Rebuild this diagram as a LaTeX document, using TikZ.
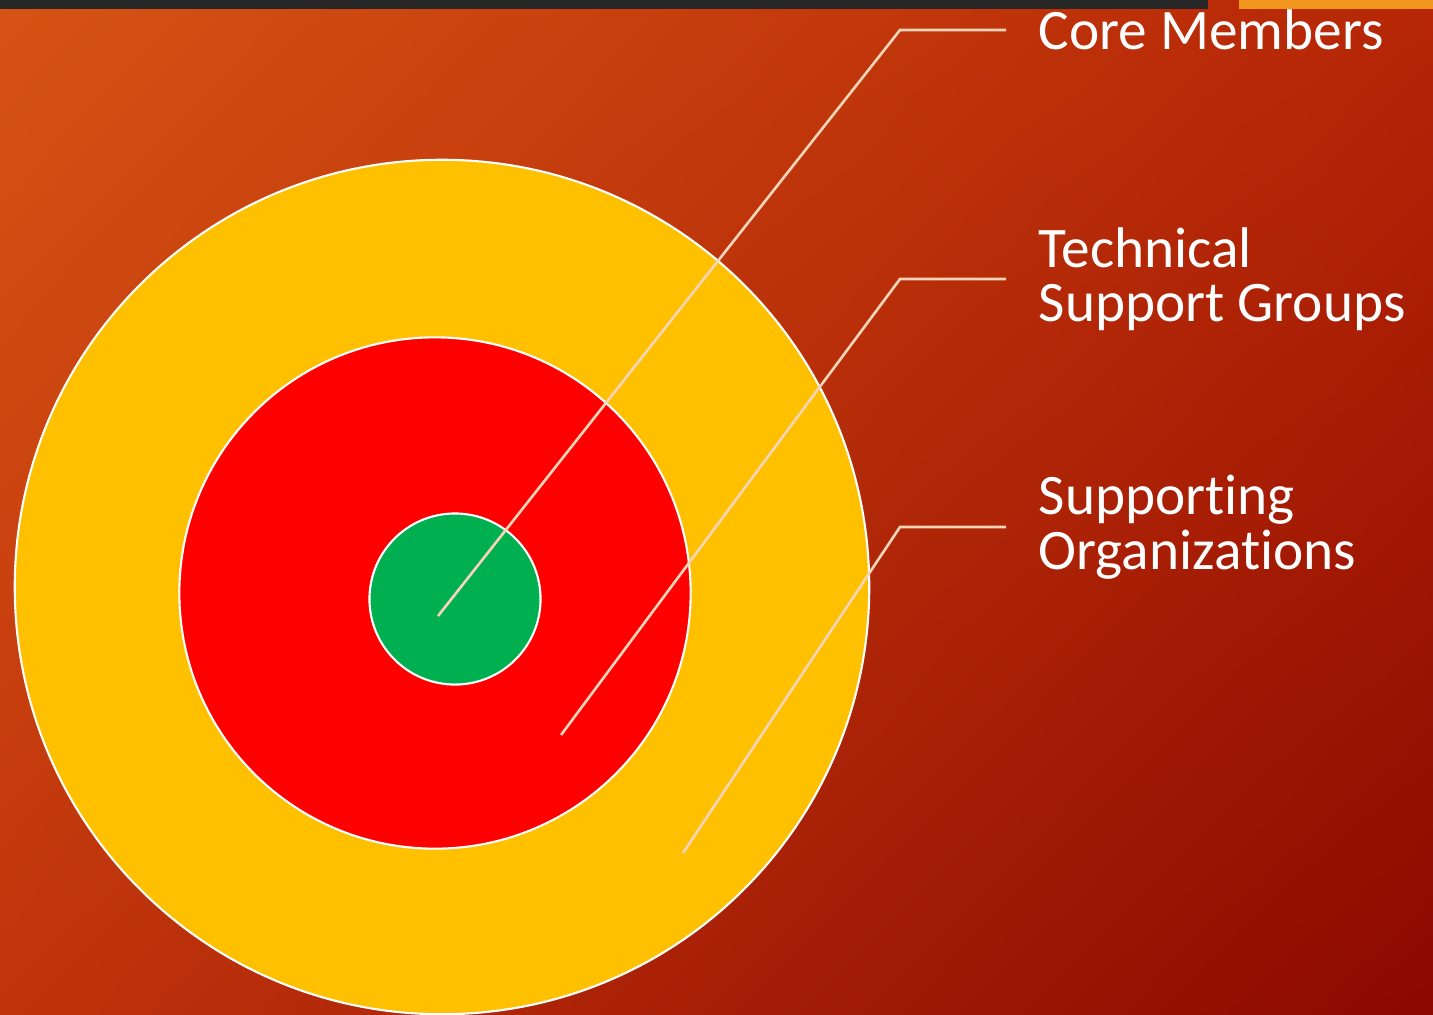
\documentclass[tikz,border=0pt]{standalone}
\usepackage{fontspec}
\setmainfont{Carlito}[Ligatures={NoCommon}]
\usetikzlibrary{positioning, shadings}

\definecolor{bgtl}{RGB}{214,84,20}
\definecolor{bgtr}{RGB}{182,38,6}
\definecolor{bgbl}{RGB}{192,52,12}
\definecolor{bgbr}{RGB}{140,8,0}
\definecolor{bardark}{RGB}{38,38,38}
\definecolor{barorange}{RGB}{240,150,28}
\definecolor{ringyellow}{RGB}{255,192,0}
\definecolor{ringred}{RGB}{255,0,0}
\definecolor{ringgreen}{RGB}{0,176,80}
\definecolor{leadcol}{RGB}{246,212,184}

\begin{document}
\begin{tikzpicture}[
  x=0.01cm, y=-0.01cm,
  ring/.style={circle, draw=white, line width=0.6pt, inner sep=0pt},
  lbl/.style={anchor=west, align=left, text=white, inner xsep=0.32cm, inner ysep=0pt,
    font=\fontsize{16.3}{15.5}\selectfont},
  leader/.style={draw=leadcol, line width=0.75pt}
]
\useasboundingbox (0,0) rectangle (1433,1014);
\clip (0,0) rectangle (1433,1014);

% background and top bars
\shade[upper left=bgtl, upper right=bgtr, lower left=bgbl, lower right=bgbr]
  (0,0) rectangle (1433,1014);
\fill[bardark] (0,0) rectangle (1208,9);
\fill[barorange] (1239,0) rectangle (1433,9);

% rings
\node[ring, fill=ringyellow, minimum size=8.54cm] (outer) at (442,587) {};
\node[ring, fill=ringred, minimum size=5.11cm] (middle) at (435,593) {};
\node[ring, fill=ringgreen, minimum size=1.71cm] (inner) at (455,599) {};

% labels
\node[lbl] (core) at (1006,30) {Core Members};
\node[lbl] (tech) at (1006,279) {Technical\\Support Groups};
\node[lbl] (supp) at (1006,527) {Supporting\\Organizations};

% leader lines
\coordinate (coreDot) at (438,616);
\coordinate (techDot) at (561,735);
\coordinate (suppDot) at (683,853);
\draw[leader] (coreDot) -- (900,30) -- (core.west);
\draw[leader] (techDot) -- (900,279) -- (tech.west);
\draw[leader] (suppDot) -- (900,527) -- (supp.west);
\end{tikzpicture}
\end{document}
